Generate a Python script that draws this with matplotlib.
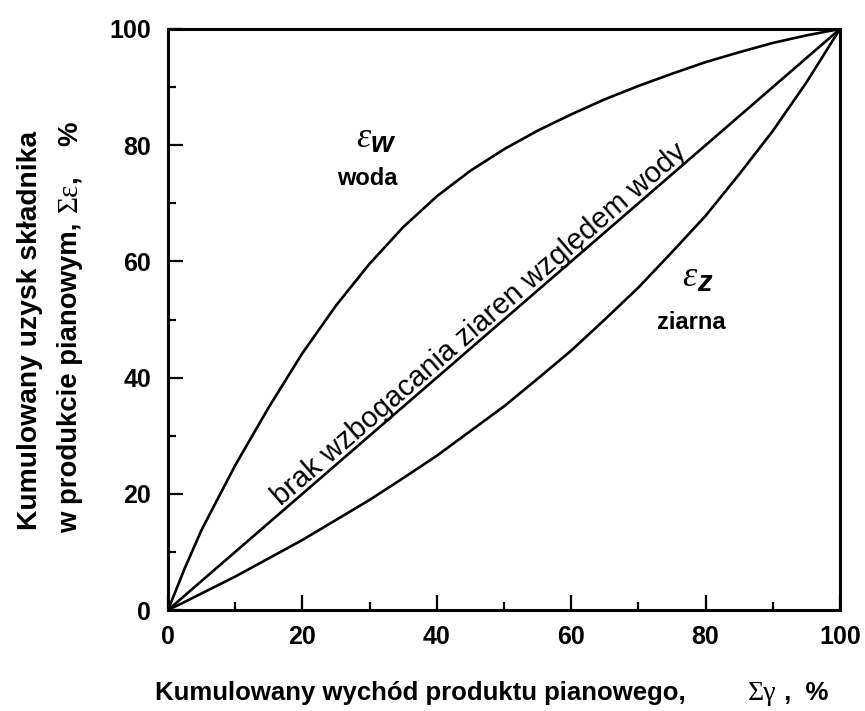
# ==== IMPORT ================================================================ #

import matplotlib
matplotlib.use("Agg")

import matplotlib.pyplot    as plt
import matplotlib.transforms as mtransforms
from matplotlib.ticker import MultipleLocator

# ==== DATA ================================================================== #

# cumulative yield of froth product, %
gamma   = [0, 2.5, 5, 10, 15, 20, 25, 30, 35, 40, 45, 50,
           55, 60, 65, 70, 75, 80, 85, 90, 95, 100]
# cumulative recovery of water (upper curve), %
eps_w   = [0, 7.2, 13.8, 24.9, 34.9, 44.2, 52.4, 59.6, 65.9, 71.2, 75.6, 79.3,
           82.5, 85.3, 87.9, 90.2, 92.3, 94.3, 96.0, 97.6, 98.9, 100]
# cumulative recovery of particles (lower curve), %
eps_z   = [0, 1.4, 2.85, 5.75, 8.9, 12.05, 15.5, 18.95, 22.7, 26.55, 30.8, 35.05,
           39.8, 44.65, 50.0, 55.5, 61.6, 67.85, 75.0, 82.45, 90.8, 100]

# no enrichment line
diag    = [0, 100]

x_ticks = [0, 20, 40, 60, 80, 100]
y_ticks = [0, 20, 40, 60, 80, 100]

# ==== PLOT ================================================================== #

SANS  = "Liberation Sans"
SERIF = "Liberation Serif"

fig = plt.figure(figsize = (8.65, 7.11), dpi = 100)
ax  = fig.add_axes([168 / 865, 1 - 610 / 711, 672 / 865, 581 / 711])

for xs, ys in ((gamma, eps_w), (diag, diag), (gamma, eps_z)):
    ax.plot(xs, ys, color = "black", lw = 1.9, solid_joinstyle = "round")

ax.set_xlim(0, 100)
ax.set_ylim(0, 100)
ax.set_xticks(x_ticks)
ax.set_yticks(y_ticks)
ax.xaxis.set_minor_locator(MultipleLocator(10))
ax.yaxis.set_minor_locator(MultipleLocator(10))

for s in ax.spines.values():
    s.set_linewidth(2.2)

ax.tick_params(which = "both", direction = "in", top = False, right = False,
               width = 1.6, color = "black")
ax.tick_params(which = "major", length = 11)
ax.tick_params(which = "minor", length = 6)
ax.tick_params(axis = "y", which = "major", pad = 12)
ax.tick_params(axis = "x", which = "major", pad = 11)

for lab in ax.get_xticklabels() + ax.get_yticklabels():
    lab.set_fontfamily(SANS)
    lab.set_fontweight("bold")
    lab.set_fontsize(18)

# curve labels
ax.annotate("ε", xy = (30.1, 81.2), ha = "right", va = "center",
            fontsize = 26, fontfamily = SERIF, style = "italic")
ax.annotate("w", xy = (30.1, 80.2), ha = "left", va = "center",
            fontsize = 21, fontfamily = SANS, style = "italic", weight = "bold")
ax.text(29.7, 74.3, "woda", ha = "center", va = "center",
        fontsize = 17, fontfamily = SANS, weight = "bold")

ax.annotate("ε", xy = (78.7, 57.2), ha = "right", va = "center",
            fontsize = 26, fontfamily = SERIF, style = "italic")
ax.annotate("z", xy = (78.7, 56.2), ha = "left", va = "center",
            fontsize = 21, fontfamily = SANS, style = "italic", weight = "bold")
ax.text(77.9, 49.5, "ziarna", ha = "center", va = "center",
        fontsize = 17, fontfamily = SANS, weight = "bold")

# label along the diagonal, lifted a little off the line
lift = mtransforms.offset_copy(ax.transData, fig = fig, x = -2.0, y = 2.4,
                               units = "points")
ax.text(47.5, 47.5, "brak wzbogacania ziaren względem wody", transform = lift,
        ha = "center", va = "baseline", rotation = 45,
        transform_rotates_text = True, rotation_mode = "anchor",
        fontsize = 21, fontfamily = SANS)

# axis titles
fig.text(155 / 865, 1 - 693 / 711,
         "Kumulowany wychód produktu pianowego,", ha = "left", va = "center",
         fontsize = 18.5, fontfamily = SANS, weight = "bold")
fig.text(776 / 865, 1 - 693 / 711, "Σγ", ha = "right", va = "center",
         fontsize = 20, fontfamily = SERIF)
fig.text(777 / 865, 1 - 693 / 711, " ,  %", ha = "left", va = "center",
         fontsize = 18.5, fontfamily = SANS, weight = "bold")

fig.text(30 / 865, 1 - 330 / 711, "Kumulowany uzysk składnika",
         ha = "center", va = "center", rotation = 90,
         fontsize = 20.3, fontfamily = SANS, weight = "bold")
fig.text(70 / 865, 1 - 533 / 711, "w produkcie pianowym,",
         ha = "center", va = "bottom", rotation = 90,
         fontsize = 19.8, fontfamily = SANS, weight = "bold")
fig.text(70 / 865, 1 - 212 / 711, "Σε",
         ha = "center", va = "bottom", rotation = 90,
         fontsize = 21, fontfamily = SERIF)
fig.text(70 / 865, 1 - 184 / 711, ",    %",
         ha = "center", va = "bottom", rotation = 90,
         fontsize = 19.8, fontfamily = SANS, weight = "bold")

fig.savefig("out.png", dpi = 100)
